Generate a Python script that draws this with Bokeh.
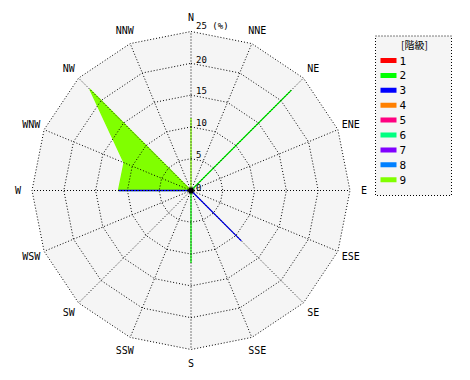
import math
from bokeh.plotting import figure
from bokeh.models import Range1d
from bokeh.core.properties import value
from bokeh.embed import file_html
from bokeh.resources import INLINE

directions = ["N", "NNE", "NE", "ENE", "E", "ESE", "SE", "SSE",
              "S", "SSW", "SW", "WSW", "W", "WNW", "NW", "NNW"]
classes = ["1", "2", "3", "4", "5", "6", "7", "8", "9"]
colors = ["#ff0000", "#00ff00", "#0000ff", "#ff8000", "#ff0080",
          "#00ff80", "#8000ff", "#0080ff", "#80ff00"]
#          N    NNE   NE   ENE   E   ESE   SE   SSE   S   SSW  SW  WSW   W    WNW   NW  NNW
s1 = [0, 0, 0, 0, 0, 0, 0, 0, 0, 0, 0, 0, 0, 0, 0, 0]
s2 = [0, 0, 22.3, 0, 0, 0, 0, 0, 11.4, 0, 0, 0, 0, 0, 0, 0]
s3 = [0, 0, 0, 0, 0, 0, 11.2, 0, 0, 0, 0, 0, 11.4, 0, 0, 0]
s4 = [0] * 16
s5 = [0] * 16
s6 = [0] * 16
s7 = [0] * 16
s8 = [0] * 16
s9 = [11.4, 0, 0, 0, 0, 0, 0, 0, 0, 0, 0, 0, 11.4, 11.4, 22.5, 0]
series = [s1, s2, s3, s4, s5, s6, s7, s8, s9]
rings = [5, 10, 15, 20, 25]
ring_labels = ["5", "10", "15", "20", "25 (%)"]

W, H = 470, 380
CX, CY = 190.5, 190.0
S = 159.0 / 25.0  # px per unit

p = figure(width=W, height=H, output_backend="svg", toolbar_location=None,
           x_range=Range1d(-CX / S, (W - CX) / S),
           y_range=Range1d(-(H - CY) / S, CY / S),
           x_axis_location=None, y_axis_location=None, min_border=0)
p.grid.visible = False
p.outline_line_color = None
p.background_fill_color = "white"
p.border_fill_color = "white"


def ang(i):
    return math.radians(90 - i * 22.5)


def polar(vals):
    xs = [v * math.cos(ang(i)) for i, v in enumerate(vals)]
    ys = [v * math.sin(ang(i)) for i, v in enumerate(vals)]
    return xs, ys


def px(x, y):
    return (x - CX) / S, (CY - y) / S


FONT = value("DejaVu Sans Mono")

# background polygon
bx, by = polar([25] * 16)
p.patch(bx, by, fill_color="#f5f5f5", line_color=None)

# filled series 9
fx, fy = polar(s9)
p.patch(fx, fy, fill_color=colors[8], line_color=None)

# series outlines
for k in range(8, -1, -1):
    xs, ys = polar(series[k])
    p.line(xs + xs[:1], ys + ys[:1], line_color=colors[k], line_width=1.3)

# grid rings and spokes
for r in rings:
    xs, ys = polar([r] * 16)
    p.line(xs + xs[:1], ys + ys[:1], line_color="black", line_width=1,
           line_dash="1 2")
for i in range(16):
    p.line([0, 25 * math.cos(ang(i))], [0, 25 * math.sin(ang(i))],
           line_color="black", line_width=1, line_dash="1 2")

p.scatter([0], [0], size=5, color="black")

# direction labels
lx, ly = polar([27.2] * 16)
p.text(lx, ly, text=directions, text_font=FONT, text_font_size="10px",
       text_align="center", text_baseline="middle", text_color="black")

# ring labels
p.text([0.8] * 5, [r + 0.1 for r in rings], text=ring_labels, text_font=FONT,
       text_font_size="9px", text_align="left", text_baseline="bottom",
       text_color="black")
p.text([0.8], [0.0], text=["0"], text_font=FONT, text_font_size="9px",
       text_align="left", text_baseline="bottom", text_color="black")

# legend box
l0, t0 = px(375, 35.5)
r0, b0 = px(451, 195)
p.quad(left=[l0], right=[r0], top=[t0], bottom=[b0], fill_color="#f5f5f5",
       line_color="black", line_dash="1 2", line_width=1)
tx, ty = px(414, 44)
p.text([tx], [ty], text=["[階級]"], text_font=value("Noto Sans CJK JP"),
       text_font_size="10px", text_align="center", text_baseline="middle",
       text_color="black")
for j, (c, lab) in enumerate(zip(colors, classes)):
    yrow = 60 + j * 14.9
    a, bt = px(380, yrow - 2.5)
    c2, bb = px(396, yrow + 2.5)
    p.quad(left=[a], right=[c2], top=[bt], bottom=[bb], fill_color=c,
           line_color=None)
    nx, ny = px(399, yrow)
    p.text([nx], [ny], text=[lab], text_font=FONT, text_font_size="11px",
           text_align="left", text_baseline="middle", text_color="black")

open("out.html", "w").write(file_html(p, INLINE))
